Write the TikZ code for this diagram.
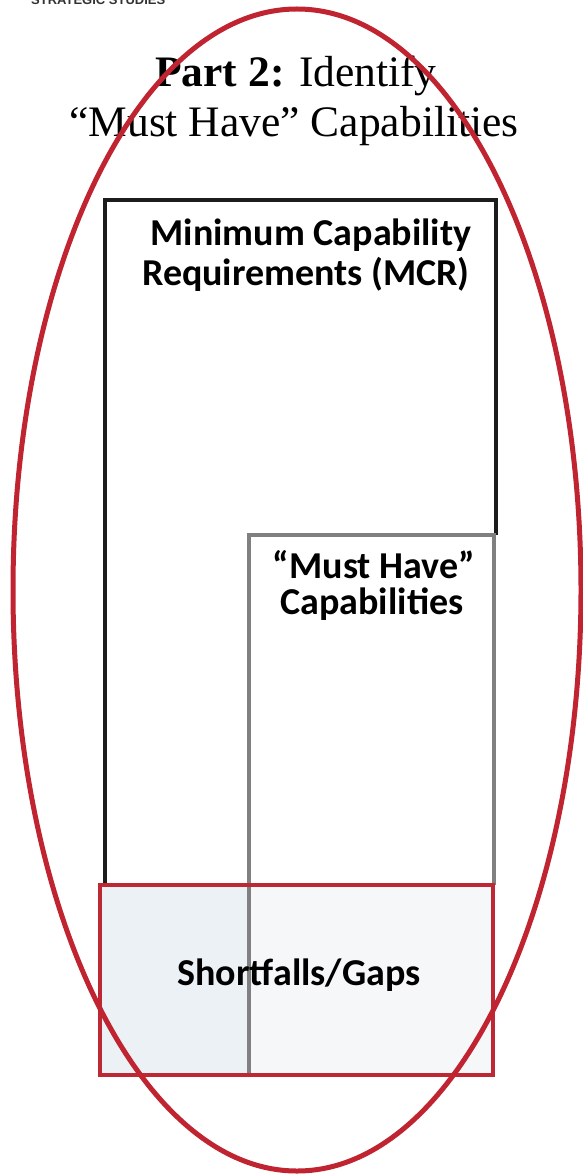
\documentclass[tikz,border=0pt]{standalone}
\usepackage{fontspec}
\setmainfont{Liberation Serif}
\newfontfamily\calfont{Carlito}
\newfontfamily\arialfont{Liberation Sans}
\definecolor{ovalred}{RGB}{192,36,48}
\definecolor{boxred}{RGB}{190,40,52}
\definecolor{boxgray}{RGB}{128,128,128}
\definecolor{boxblack}{RGB}{28,28,28}
\definecolor{gapleft}{RGB}{236,241,246}
\definecolor{gapright}{RGB}{246,247,249}
\tikzset{
  title/.style={anchor=base, inner sep=0pt, font=\fontsize{43.5}{50}\selectfont},
  label/.style={anchor=base, inner sep=0pt, font=\calfont\bfseries\fontsize{38}{42}\selectfont},
  header/.style={anchor=base west, inner sep=0pt, text=black!80, font=\arialfont\bfseries\fontsize{13}{15}\selectfont},
  blackline/.style={draw=boxblack, line width=3.5pt},
  grayline/.style={draw=boxgray, line width=3.5pt},
  redbox/.style={draw=boxred, line width=4pt},
  oval/.style={draw=ovalred, line width=5pt}
}
\begin{document}
\begin{tikzpicture}[x=1pt,y=-1pt]
\useasboundingbox (0,0) rectangle (582,1174);
\fill[white] (0,0) rectangle (582,1174);
% header, cut off at the top edge as in the reference
\node[header] (hdr) at (31,4.5) {STRATEGIC STUDIES};
% title
\node[title] (t1) at (296,87) {\textbf{Part 2:} Identify};
\node[title] (t2) at (294,137) {“Must Have” Capabilities};
% shortfalls fill
\fill[gapleft] (100,885) rectangle (249,1075);
\fill[gapright] (249,885) rectangle (493,1075);
% MCR box (black)
\draw[blackline] (105,885) -- (105,200) -- (496,200) -- (496,535);
% Must have box (gray)
\draw[grayline] (249,1073) -- (249,535) -- (494,535) -- (494,885);
% shortfalls box
\draw[redbox] (100,885) rectangle (493,1075);
% labels
\node[label] (mcr1) at (311,245) {Minimum Capability};
\node[label] (mcr2) at (306,285) {Requirements (MCR)};
\node[label] (mh1) at (374,578) {“Must Have”};
\node[label] (mh2) at (372,614) {Capabilities};
\node[label] (gaps) at (299,985) {Shortfalls/Gaps};
% oval
\draw[oval] (297,590) ellipse [x radius=284, y radius=581];
\end{tikzpicture}
\end{document}
